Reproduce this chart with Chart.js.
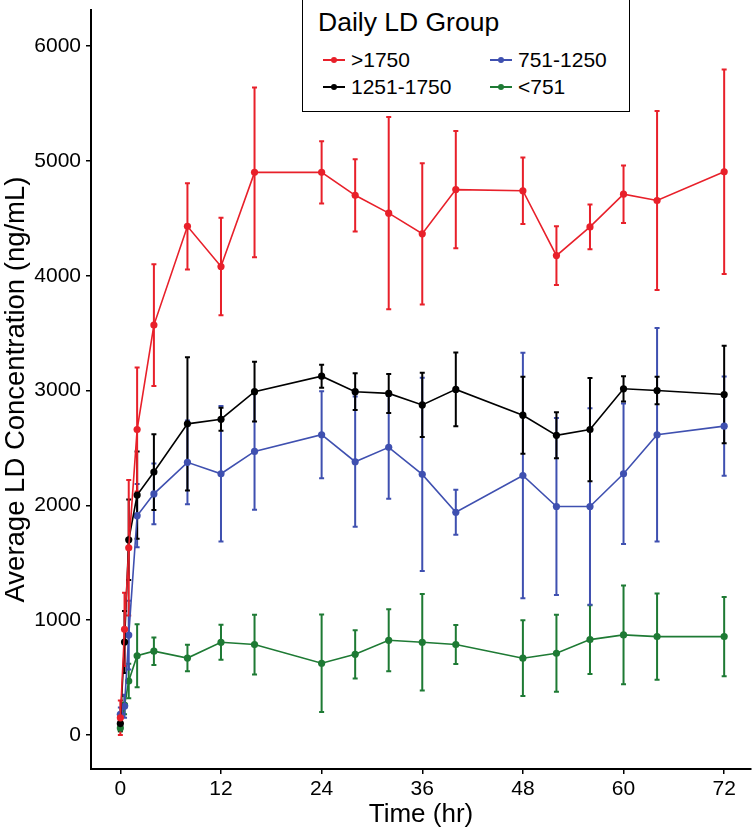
<!DOCTYPE html>
<html>
<head>
<meta charset="utf-8">
<script src="https://cdn.jsdelivr.net/npm/chart.js@4.4.1/dist/chart.umd.min.js"></script>
<style>
    html, body { margin: 0; padding: 0; background: #fff; }
    #wrap { position: relative; width: 755px; height: 832px; }
    #legend {
        position: absolute; left: 302px; top: -2px; width: 326px; height: 112px;
        border: 1.5px solid #000; background: #fff;
        font-family: 'Liberation Sans', Arial, sans-serif; color: #000;
    }
    #legend .title { position: absolute; left: 15px; top: 8px; font-size: 26.5px; }
    #legend .item { position: absolute; font-size: 21px; line-height: 24px; }
    #legend .key { position: absolute; left: -28px; top: 11px; width: 22px; height: 1.6px; }
    #legend .key span { position: absolute; left: 8px; top: -2.4px; width: 6px; height: 6px; border-radius: 50%; }
</style>
</head>
<body>
<div id="wrap">
    <canvas id="chart" width="755" height="832"></canvas>
    <div id="legend"></div>
</div>
<script>
document.addEventListener('DOMContentLoaded', () => {
    const times = [0, 0.5, 1, 2, 4, 8, 12, 16, 24, 28, 32, 36, 40, 48, 52, 56, 60, 64, 72];
    const xTicks = [0, 12, 24, 36, 48, 60, 72];
    const yTicks = [0, 1000, 2000, 3000, 4000, 5000, 6000];

    const groupLabels = ['>1750', '1251-1750', '751-1250', '<751'];
    const groupColors = ['#e8202a', '#000000', '#3f50b0', '#1e7a34'];

    // mean concentration per time point
    const meanHigh = [150, 920, 1630, 2660, 3570, 4430, 4080, 4900, 4900, 4700, 4545, 4365, 4750, 4740, 4175, 4425, 4710, 4655, 4905];
    const meanUpper = [100, 810, 1700, 2090, 2290, 2710, 2750, 2990, 3125, 2990, 2975, 2875, 3010, 2785, 2610, 2660, 3015, 3000, 2965];
    const meanMid = [180, 250, 870, 1910, 2100, 2375, 2275, 2470, 2615, 2380, 2505, 2270, 1940, 2260, 1990, 1990, 2275, 2615, 2690];
    const meanLow = [60, 260, 470, 690, 730, 670, 808, 788, 625, 703, 825, 808, 788, 669, 712, 831, 872, 857, 857];

    // error bar half-widths
    const sdHigh = [150, 320, 590, 540, 530, 375, 425, 740, 272, 315, 838, 615, 510, 290, 255, 195, 250, 780, 890];
    const sdUpper = [60, 270, 350, 380, 330, 580, 100, 260, 100, 160, 170, 280, 322, 335, 200, 450, 110, 120, 425];
    const sdMid = [60, 100, 300, 275, 265, 365, 590, 508, 378, 567, 447, 842, 197, 1068, 770, 855, 611, 930, 433];
    const sdLow = [30, 80, 150, 275, 120, 115, 152, 260, 424, 210, 270, 420, 170, 330, 335, 300, 430, 375, 345];

    const means = [meanHigh, meanUpper, meanMid, meanLow];
    const sds = [sdHigh, sdUpper, sdMid, sdLow];

    const font = "'Liberation Sans', Arial, sans-serif";

    const datasets = groupLabels.map((label, g) => ({
        label: label,
        data: times.map((t, i) => ({ x: t, y: means[g][i] })),
        sd: sds[g],
        borderColor: groupColors[g],
        backgroundColor: groupColors[g],
        pointBackgroundColor: groupColors[g],
        pointBorderWidth: 0,
        pointRadius: 3.6,
        borderWidth: 1.6,
        tension: 0,
        fill: false
    }));

    const errorBars = {
        id: 'errorBars',
        beforeDatasetsDraw(chart) {
            const ctx = chart.ctx;
            const xs = chart.scales.x;
            const ys = chart.scales.y;
            ctx.save();
            ctx.lineWidth = 2;
            for (let d = chart.data.datasets.length - 1; d >= 0; d--) {
                const ds = chart.data.datasets[d];
                ctx.strokeStyle = ds.borderColor;
                ds.data.forEach((p, i) => {
                    const px = xs.getPixelForValue(p.x);
                    const top = ys.getPixelForValue(p.y + ds.sd[i]);
                    const bot = ys.getPixelForValue(p.y - ds.sd[i]);
                    ctx.beginPath();
                    ctx.moveTo(px, top); ctx.lineTo(px, bot);
                    ctx.moveTo(px - 2.5, top); ctx.lineTo(px + 2.5, top);
                    ctx.moveTo(px - 2.5, bot); ctx.lineTo(px + 2.5, bot);
                    ctx.stroke();
                });
            }
            ctx.restore();
        }
    };

    new Chart(document.getElementById('chart').getContext('2d'), {
        type: 'line',
        data: { datasets: datasets },
        plugins: [errorBars],
        options: {
            responsive: false,
            animation: false,
            layout: { padding: { top: 10, right: 0, left: 0, bottom: 0 } },
            plugins: {
                legend: { display: false },
                tooltip: { enabled: false }
            },
            scales: {
                x: {
                    type: 'linear',
                    min: -3.5,
                    max: 75.2,
                    afterBuildTicks: s => { s.ticks = xTicks.map(v => ({ value: v })); },
                    afterFit: s => { s.height = 63; s.paddingLeft = 0; s.paddingRight = 0; },
                    border: { display: true, color: '#000', width: 2 },
                    grid: { drawOnChartArea: false, drawTicks: true, tickLength: 5, color: '#000', lineWidth: 1.5 },
                    ticks: { color: '#000', font: { family: font, size: 21 }, padding: 3, maxRotation: 0, callback: v => String(v) },
                    title: { display: true, text: 'Time (hr)', color: '#000', font: { family: font, size: 26 }, padding: { top: 0, bottom: 2 } }
                },
                y: {
                    type: 'linear',
                    min: -296,
                    max: 6314,
                    afterBuildTicks: s => { s.ticks = yTicks.map(v => ({ value: v })); },
                    afterFit: s => { s.width = 91; s.paddingTop = 0; s.paddingBottom = 0; },
                    border: { display: true, color: '#000', width: 2 },
                    grid: { drawOnChartArea: false, drawTicks: true, tickLength: 5, color: '#000', lineWidth: 1.5 },
                    ticks: { color: '#000', font: { family: font, size: 21 }, padding: 5, callback: v => String(v) },
                    title: { display: true, text: 'Average LD Concentration (ng/mL)', color: '#000', font: { family: font, size: 27.5 }, padding: { top: 0, bottom: 0 } }
                }
            }
        }
    });

    // legend box, two columns filled column-wise
    const legend = document.getElementById('legend');
    const title = document.createElement('div');
    title.className = 'title';
    title.textContent = 'Daily LD Group';
    legend.appendChild(title);
    const cols = [48, 215];
    const rows = [49, 76];
    groupLabels.forEach((label, g) => {
        const item = document.createElement('div');
        item.className = 'item';
        item.style.left = cols[Math.floor(g / 2)] + 'px';
        item.style.top = rows[g % 2] + 'px';
        item.innerHTML = '<div class="key" style="background:' + groupColors[g] + '"><span style="background:' + groupColors[g] + '"></span></div>';
        item.appendChild(document.createTextNode(label));
        legend.appendChild(item);
    });
});
</script>
</body>
</html>
